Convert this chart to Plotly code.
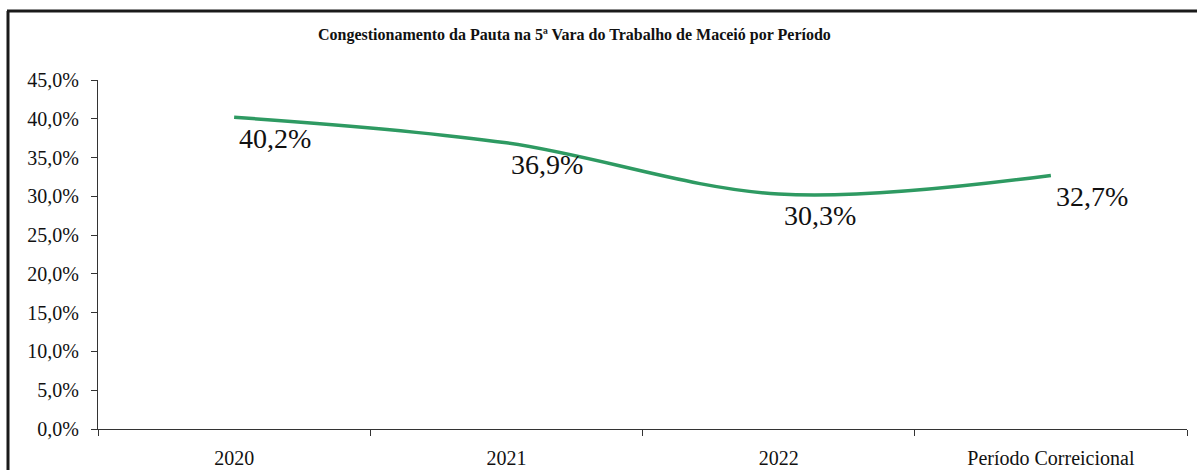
import plotly.graph_objects as go

categories = ["2020", "2021", "2022", "Período Correicional"]
values = [40.2, 36.9, 30.3, 32.7]
y_ticks = [0, 5, 10, 15, 20, 25, 30, 35, 40, 45]
y_tick_text = [f"{v:.1f}%".replace(".", ",") for v in y_ticks]
value_labels = [f"{v:.1f}%".replace(".", ",") for v in values]
title_text = "Congestionamento da Pauta na 5ª Vara do Trabalho de Maceió por Período"

serif = "Liberation Serif"

fig = go.Figure()
fig.add_trace(go.Scatter(
    x=categories, y=values,
    mode="lines",
    line=dict(color="#2E9A62", width=3.5, shape="spline", smoothing=1),
    hoverinfo="skip",
))

annotations = [dict(
    text="<b>" + title_text + "</b>",
    xref="paper", yref="paper",
    x=(574 - 98) / 1089, y=(429 - 35) / 349,
    xanchor="center", yanchor="middle",
    showarrow=False,
    font=dict(family=serif, size=16, color="#111111"),
)]
for i, (v, t) in enumerate(zip(values, value_labels)):
    annotations.append(dict(
        text=t, x=i, y=v, xref="x", yref="y",
        xanchor="left", yanchor="top",
        xshift=3, yshift=-4,
        showarrow=False,
        font=dict(family=serif, size=28, color="#111111"),
    ))

fig.update_layout(
    width=1197, height=470,
    margin=dict(l=98, r=10, t=80, b=41),
    paper_bgcolor="white", plot_bgcolor="white",
    showlegend=False,
    font=dict(family=serif, color="#111111"),
    annotations=annotations,
    shapes=[
        dict(type="line", xref="paper", yref="paper",
             x0=(8 - 98) / 1089, x1=(8 - 98) / 1089,
             y0=(429 - 11) / 349, y1=(429 - 480) / 349,
             line=dict(color="#1a1a1a", width=3)),
        dict(type="line", xref="paper", yref="paper",
             x0=(7 - 98) / 1089, x1=(1200 - 98) / 1089,
             y0=(429 - 11) / 349, y1=(429 - 11) / 349,
             line=dict(color="#1a1a1a", width=3)),
    ],
)

fig.update_xaxes(
    type="category",
    range=[-0.5, 3.5],
    automargin=False,
    showline=True, linecolor="#333333", linewidth=1,
    ticks="outside", tickson="boundaries", ticklen=6, tickcolor="#333333",
    showgrid=False, zeroline=False,
    tickfont=dict(family=serif, size=20, color="#111111"),
    ticklabelstandoff=11,
)
fig.update_yaxes(
    range=[0, 45],
    automargin=False,
    tickmode="array", tickvals=y_ticks, ticktext=y_tick_text,
    showline=True, linecolor="#333333", linewidth=1,
    ticks="outside", ticklen=6, tickcolor="#333333",
    showgrid=False, zeroline=False,
    tickfont=dict(family=serif, size=20, color="#111111"),
    ticklabelstandoff=8,
)

fig.write_html(
    "out.html",
    config={"displayModeBar": False},
    post_script="document.body.style.margin='0';document.body.style.padding='0';",
)
